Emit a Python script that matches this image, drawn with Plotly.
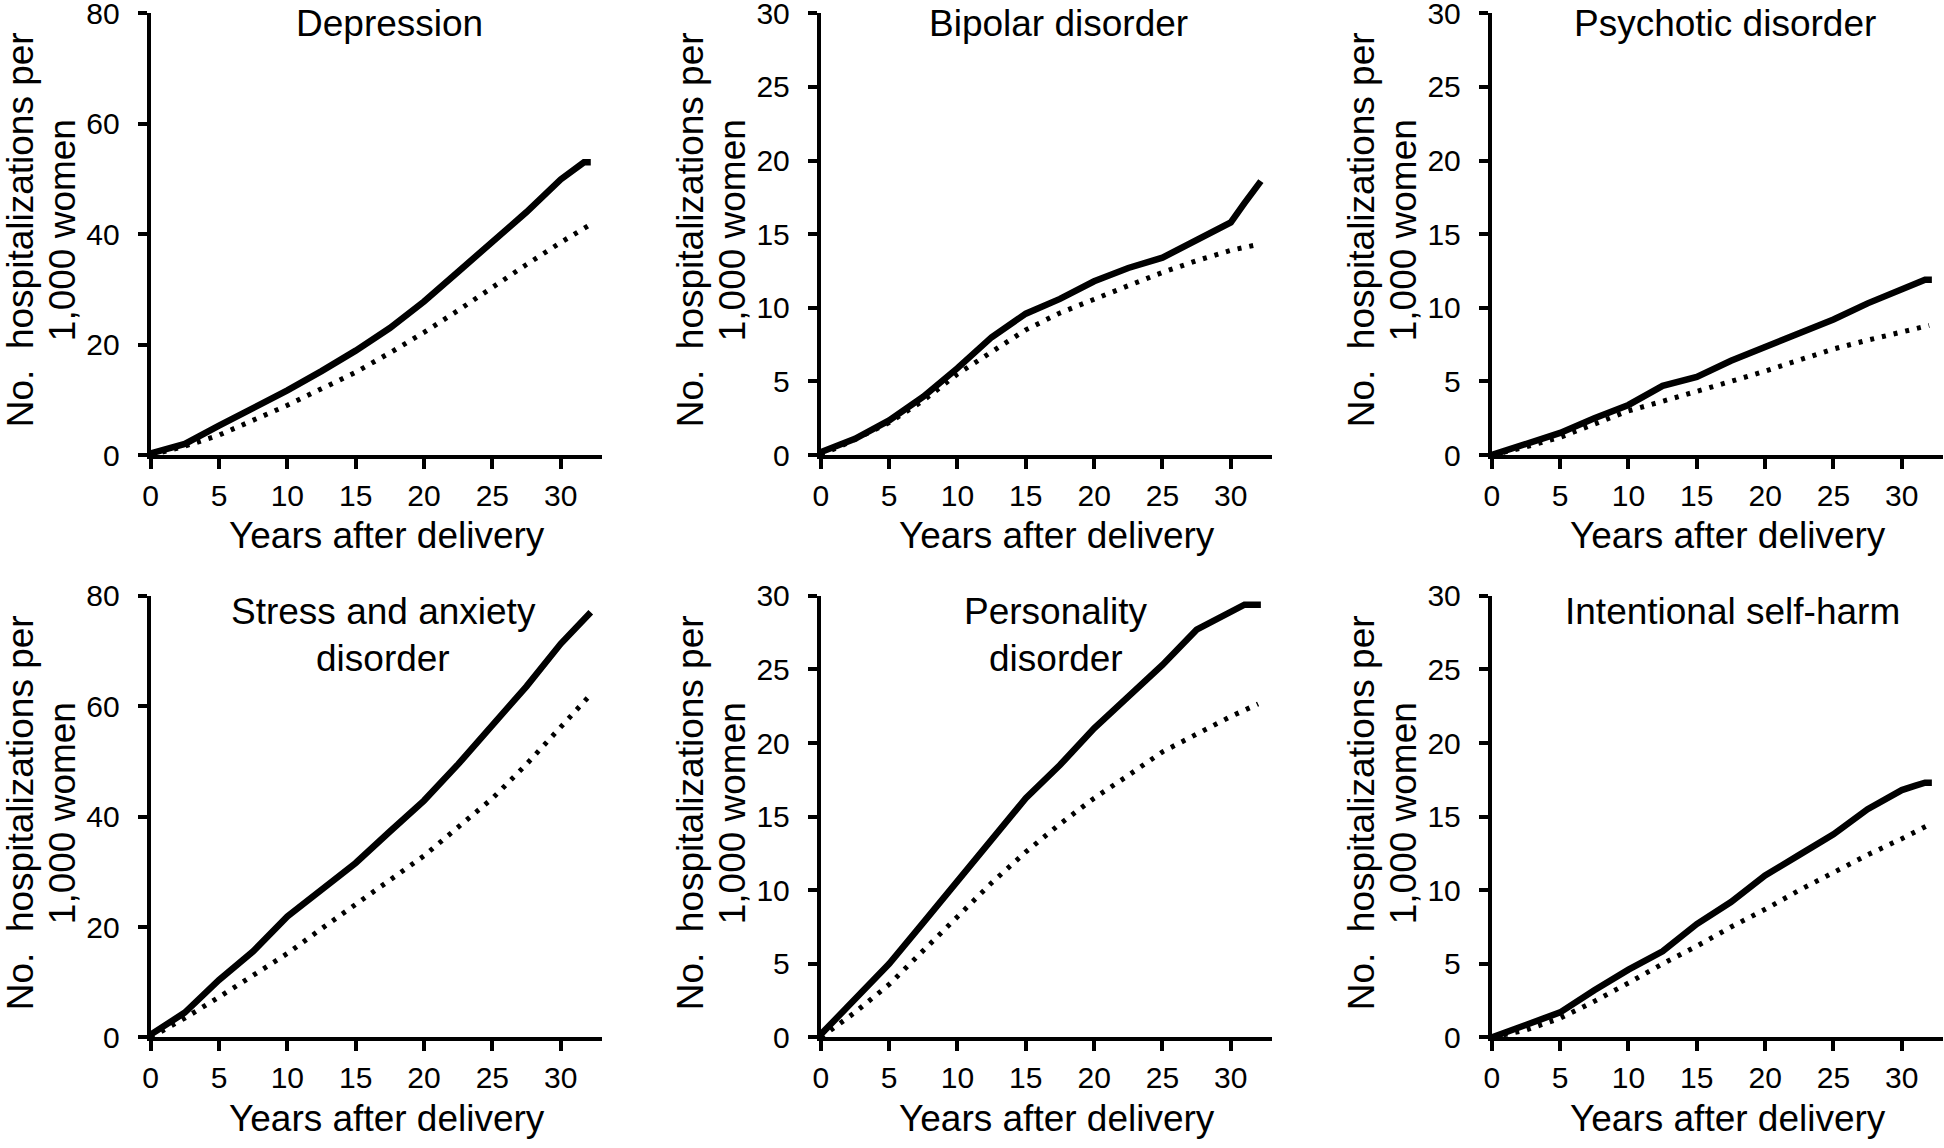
import plotly.graph_objects as go

# ---------------- data ----------------
PANEL_TITLES = [["Depression"], ["Bipolar disorder"], ["Psychotic disorder"],
                ["Stress and anxiety", "disorder"], ["Personality", "disorder"], ["Intentional self-harm"]]
Y_MAX = [80, 30, 30, 80, 30, 30]
Y_TICKS = [[0, 20, 40, 60, 80], [0, 5, 10, 15, 20, 25, 30], [0, 5, 10, 15, 20, 25, 30],
           [0, 20, 40, 60, 80], [0, 5, 10, 15, 20, 25, 30], [0, 5, 10, 15, 20, 25, 30]]
X_TICKS = [0, 5, 10, 15, 20, 25, 30]
X_TITLE = "Years after delivery"
Y_TITLE_1 = "No.  hospitalizations per"
Y_TITLE_2 = "1,000 women"

YEARS_SOLID = [0, 2.5, 5, 7.5, 10, 12.5, 15, 17.5, 20, 22.5, 25, 27.5, 30, 31, 31.7, 32.2]
YEARS_DOTTED = [0, 2.5, 5, 7.5, 10, 12.5, 15, 17.5, 20, 22.5, 25, 27.5, 30, 32]

DEP_SOLID = [0.3, 2.0, 5.3, 8.4, 11.7, 15.2, 18.9, 23.0, 27.8, 33.2, 38.7, 44.0, 49.9, 51.8, 53.0, 53.0]
BIP_SOLID = [0.2, 1.1, 2.35, 3.96, 5.9, 8.0, 9.6, 10.6, 11.8, 12.7, 13.4, 14.6, 15.8, 17.1, 18.0, 18.6]
PSY_SOLID = [0, 0.8, 1.5, 2.5, 3.4, 4.7, 5.3, 6.4, 7.3, 8.3, 9.2, 10.3, 11.3, 11.6, 11.9, 11.9]
STR_SOLID = [0.5, 4.5, 10.4, 15.6, 21.9, 26.6, 31.6, 37.3, 42.9, 49.5, 56.6, 63.6, 71.3, 74.0, 76.0, 77.0]
PER_SOLID = [0.2, 2.6, 5.0, 7.8, 10.6, 13.5, 16.25, 18.5, 21.0, 23.15, 25.3, 27.7, 29.0, 29.4, 29.4, 29.4]
SH_SOLID = [0, 0.8, 1.7, 3.2, 4.6, 5.85, 7.7, 9.2, 11.0, 12.4, 13.8, 15.5, 16.8, 17.1, 17.3, 17.3]

DEP_DOTTED = [0, 1.6, 3.6, 6.2, 9.0, 12.0, 15.0, 18.5, 22.2, 26.2, 30.4, 34.5, 38.5, 41.5]
BIP_DOTTED = [0, 1.05, 2.2, 3.7, 5.5, 7.05, 8.5, 9.65, 10.6, 11.5, 12.4, 13.2, 13.9, 14.3]
PSY_DOTTED = [0, 0.55, 1.2, 2.1, 3.0, 3.65, 4.3, 5.0, 5.7, 6.45, 7.2, 7.8, 8.4, 8.8]
STR_DOTTED = [0, 3.5, 7.3, 11.2, 15.2, 19.7, 24.2, 28.5, 32.9, 38.0, 43.3, 49.5, 56.3, 61.6]
PER_DOTTED = [0, 1.7, 3.6, 5.85, 8.2, 10.5, 12.6, 14.5, 16.25, 17.8, 19.4, 20.6, 21.8, 22.65]
SH_DOTTED = [0, 0.5, 1.3, 2.45, 3.7, 5.0, 6.2, 7.5, 8.7, 10.0, 11.2, 12.4, 13.5, 14.45]

SOLIDS = [DEP_SOLID, BIP_SOLID, PSY_SOLID, STR_SOLID, PER_SOLID, SH_SOLID]
DOTTEDS = [DEP_DOTTED, BIP_DOTTED, PSY_DOTTED, STR_DOTTED, PER_DOTTED, SH_DOTTED]

# ---------------- layout geometry (screen pixels) ----------------
W, H = 1944, 1148
FONT = "Liberation Sans, Arial, sans-serif"
PLOT_W = 451
X_LEFT_PX = [150.7, 820.8, 1491.8]
Y_DOM_PX = [(13.3, 455.0), (595.8, 1037.4)]  # top, bottom in screen px
TITLE_X = [389, 1058, 1725, 383, 1056, 1732]
TITLE_Y = [23.5, 23.5, 23.5, 612, 612, 612]
TITLE_LINE_GAP = 46
YT_OFF = (-130.5, -88.5)
YT_MID = [230, 813]
XT_OFF = 236
XT_MID = [536, 1118]
TICK_FONT = 30
TITLE_FONT = 37


def px_x(s):
    return s / W


def px_y(s):
    return 1 - s / H


fig = go.Figure()
layout = dict(
    template="none",
    width=W, height=H, margin=dict(l=0, r=0, t=0, b=0, pad=0),
    paper_bgcolor="white", plot_bgcolor="white", showlegend=False,
    font=dict(family=FONT, color="black"),
)
annotations = []

for i in range(6):
    r, c = divmod(i, 3)
    ax = "" if i == 0 else str(i + 1)
    x0 = X_LEFT_PX[c]
    x1 = x0 + PLOT_W
    yt, yb = Y_DOM_PX[r]
    layout["xaxis" + ax] = dict(
        domain=[px_x(x0), px_x(x1)], range=[0, 33], anchor="y" + ax, automargin=False,
        tickvals=X_TICKS, ticks="outside", ticklen=10, tickwidth=4, tickcolor="black",
        showline=True, linewidth=4, linecolor="black", showgrid=False, zeroline=False,
        tickfont=dict(family=FONT, size=TICK_FONT, color="black"), ticklabelstandoff=1,
        ticklabeloverflow="allow",
    )
    layout["yaxis" + ax] = dict(
        domain=[px_y(yb), px_y(yt)], range=[0, Y_MAX[i]], anchor="x" + ax, automargin=False,
        tickvals=Y_TICKS[i], ticks="outside", ticklen=9, tickwidth=4, tickcolor="black",
        showline=True, linewidth=4, linecolor="black", showgrid=False, zeroline=False,
        tickfont=dict(family=FONT, size=TICK_FONT, color="black"), ticklabelstandoff=12,
        ticklabeloverflow="allow",
    )
    fig.add_trace(go.Scatter(
        x=YEARS_DOTTED, y=DOTTEDS[i], mode="lines", xaxis="x" + ax, yaxis="y" + ax,
        line=dict(color="black", width=5, dash="4px,8px"), hoverinfo="skip"))
    fig.add_trace(go.Scatter(
        x=YEARS_SOLID, y=SOLIDS[i], mode="lines", xaxis="x" + ax, yaxis="y" + ax,
        line=dict(color="black", width=6.5), hoverinfo="skip"))

    for k, line_txt in enumerate(PANEL_TITLES[i]):
        annotations.append(dict(
            text=line_txt, xref="paper", yref="paper", x=px_x(TITLE_X[i]),
            y=px_y(TITLE_Y[i] + k * TITLE_LINE_GAP),
            xanchor="center", yanchor="middle", showarrow=False,
            font=dict(family=FONT, size=TITLE_FONT, color="black")))
    for off, txt in zip(YT_OFF, (Y_TITLE_1, Y_TITLE_2)):
        annotations.append(dict(
            text=txt, xref="paper", yref="paper", x=px_x(x0 + off), y=px_y(YT_MID[r]),
            xanchor="center", yanchor="middle", textangle=-90, showarrow=False,
            font=dict(family=FONT, size=TITLE_FONT, color="black")))
    annotations.append(dict(
        text=X_TITLE, xref="paper", yref="paper", x=px_x(x0 + XT_OFF), y=px_y(XT_MID[r]),
        xanchor="center", yanchor="middle", showarrow=False,
        font=dict(family=FONT, size=TITLE_FONT, color="black")))

layout["annotations"] = annotations
fig.update_layout(**layout)
fig.write_html(
    "out.html",
    config={"displayModeBar": False},
    post_script="document.body.style.margin='0';document.body.style.overflow='hidden';",
)
